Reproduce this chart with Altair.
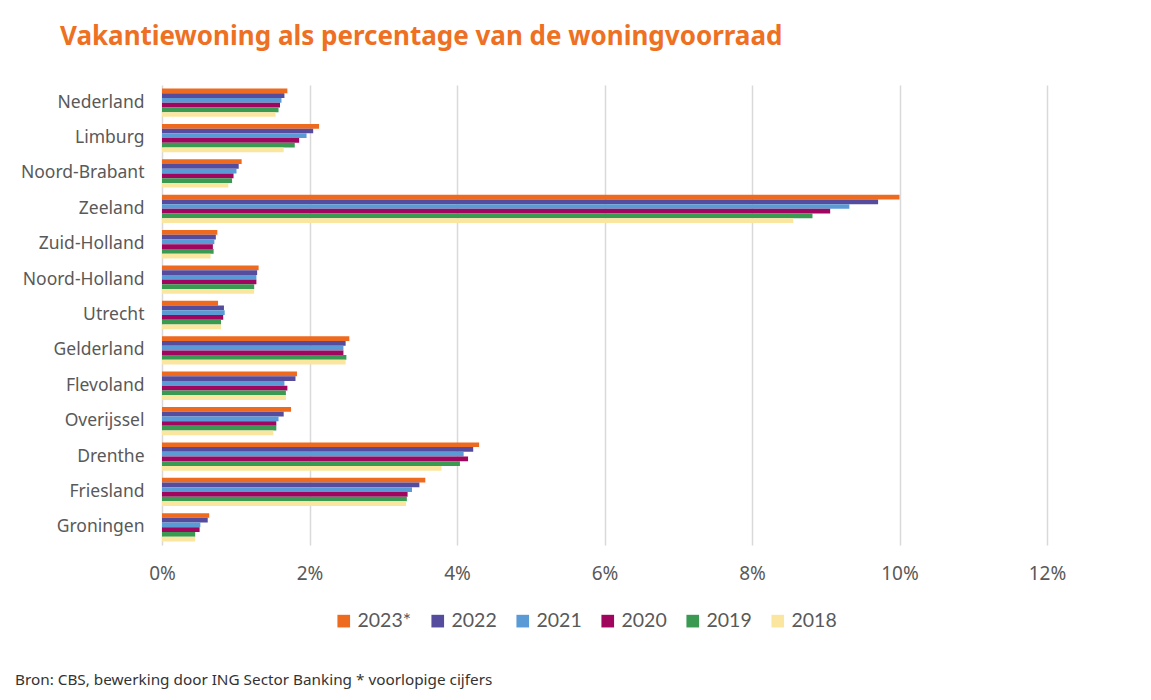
import altair as alt
import pandas as pd

regions = ["Nederland", "Limburg", "Noord-Brabant", "Zeeland", "Zuid-Holland",
           "Noord-Holland", "Utrecht", "Gelderland", "Flevoland", "Overijssel",
           "Drenthe", "Friesland", "Groningen"]
years = ["2023*", "2022", "2021", "2020", "2019", "2018"]

v2023 = [1.70, 2.13, 1.08, 10.00, 0.75, 1.31, 0.76, 2.54, 1.83, 1.75, 4.30, 3.57, 0.64]
v2022 = [1.66, 2.05, 1.04, 9.71, 0.73, 1.29, 0.84, 2.49, 1.81, 1.65, 4.22, 3.49, 0.62]
v2021 = [1.62, 1.96, 1.01, 9.32, 0.71, 1.28, 0.85, 2.46, 1.66, 1.58, 4.09, 3.39, 0.52]
v2020 = [1.60, 1.86, 0.97, 9.06, 0.69, 1.28, 0.83, 2.46, 1.70, 1.55, 4.15, 3.33, 0.51]
v2019 = [1.58, 1.80, 0.95, 8.82, 0.70, 1.25, 0.80, 2.50, 1.68, 1.55, 4.04, 3.32, 0.45]
v2018 = [1.54, 1.65, 0.90, 8.56, 0.66, 1.25, 0.80, 2.49, 1.68, 1.51, 3.79, 3.31, 0.45]

colors = ["#EE6A1F", "#554C9E", "#5B9BD5", "#A0065E", "#3A9A52", "#FBE6A0"]
x_ticks = [0, 2, 4, 6, 8, 10, 12]

title_text = "Vakantiewoning als percentage van de woningvoorraad"
note_text = "Bron: CBS, bewerking door ING Sector Banking * voorlopige cijfers"

series = [v2023, v2022, v2021, v2020, v2019, v2018]
rows = []
for y, vals in zip(years, series):
    for r, v in zip(regions, vals):
        rows.append({"regio": r, "jaar": y, "waarde": v})
df = pd.DataFrame(rows)

FONT = "Noto Sans"

bars = alt.Chart(df).mark_bar().encode(
    y=alt.Y("regio:N", sort=regions,
            scale=alt.Scale(paddingInner=0.2, paddingOuter=0.1),
            axis=alt.Axis(title=None, ticks=False, domain=False, grid=False,
                          labelFontSize=17.5, labelColor="#595959", labelFont=FONT,
                          labelPadding=18)),
    yOffset=alt.YOffset("jaar:N", sort=years, scale=alt.Scale(paddingInner=0, paddingOuter=0)),
    x=alt.X("waarde:Q", scale=alt.Scale(domain=[0, 12], nice=False),
            axis=alt.Axis(title=None, values=x_ticks, labelExpr="datum.value + '%'",
                          ticks=False, domain=False, grid=True, gridColor="#D9D9D9",
                          gridWidth=1.5, labelFontSize=19, labelColor="#595959",
                          labelFont=FONT, labelPadding=19, labelFlush=False)),
    color=alt.Color("jaar:N", sort=years,
                    scale=alt.Scale(domain=years, range=colors),
                    legend=alt.Legend(title=None, orient="none", direction="horizontal",
                                      legendX=172, legendY=526, symbolType="square",
                                      symbolSize=160, symbolStrokeWidth=0,
                                      labelFontSize=19.5, labelColor="#595959",
                                      labelFont="Lato", columnPadding=16,
                                      symbolOffset=0, labelOffset=4)),
)

note = alt.Chart(pd.DataFrame({"t": [note_text]})).mark_text(
    align="left", baseline="middle", fontSize=15.3, color="#333333", font=FONT
).encode(x=alt.value(-147), y=alt.value(595), text="t:N")

chart = alt.layer(bars, note).properties(
    width=885, height=460,
    title=alt.TitleParams(title_text, anchor="start", frame="group", dx=-102, offset=35,
                          fontSize=26, font=FONT, fontWeight="bold", color="#EE7023"),
    autosize=alt.AutoSizeParams(type="none"),
    padding={"left": 154, "top": 77, "right": 50, "bottom": 152},
).configure(background="white").configure_view(strokeWidth=0, stroke="transparent")

chart.save("out.html", embed_options={"renderer": "svg", "actions": False})
